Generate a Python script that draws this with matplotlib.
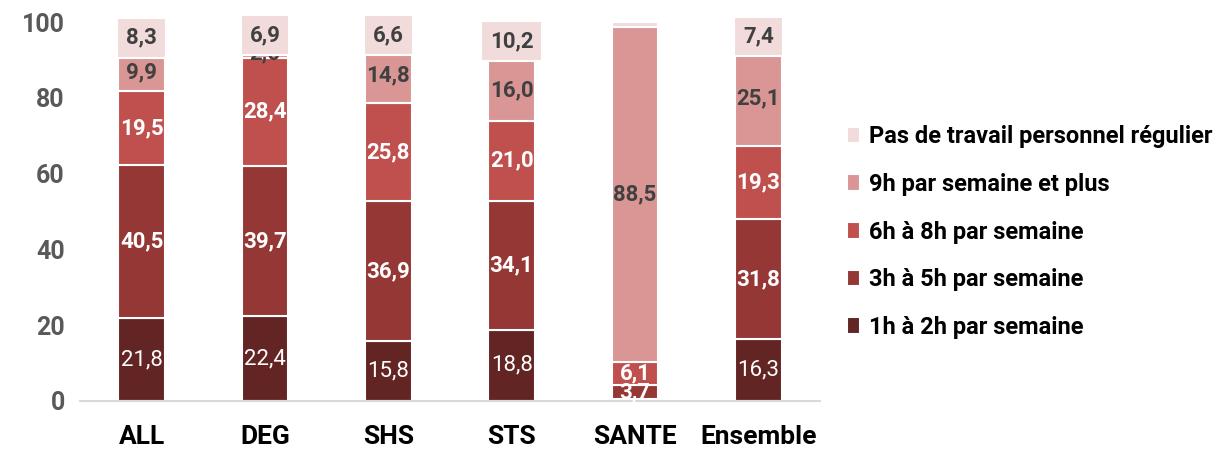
import matplotlib
matplotlib.use("Agg")
import matplotlib.pyplot as plt
import numpy as np

plt.rcParams['font.family'] = ['Roboto', 'DejaVu Sans']

categories = ["ALL", "DEG", "SHS", "STS", "SANTE", "Ensemble"]
series_names = ["1h à 2h par semaine", "3h à 5h par semaine", "6h à 8h par semaine",
                "9h par semaine et plus", "Pas de travail personnel régulier"]
h1_2 = [21.8, 22.4, 15.8, 18.8, 0.5, 16.3]
h3_5 = [40.5, 39.7, 36.9, 34.1, 3.7, 31.8]
h6_8 = [19.5, 28.4, 25.8, 21.0, 6.1, 19.3]
h9p = [9.9, 2.6, 14.8, 16.0, 88.5, 25.1]
pas = [8.3, 6.9, 6.6, 10.2, 1.2, 7.4]
series = [h1_2, h3_5, h6_8, h9p, pas]
colors = ["#632523", "#953735", "#c0504d", "#d99694", "#f2dcdb"]
label_colors = ["white", "white", "white", "#404040", "#404040"]
label_weights = ["normal", "bold", "bold", "bold", "bold"]

fig = plt.figure(figsize=(12.2, 4.5), dpi=100)
ax = fig.add_axes([80/1220, 49/450, 740/1220, 379/450])

x = np.arange(len(categories))
bottom = np.zeros(len(categories))
handles = []
for k, (vals, col, lc, lw, name) in enumerate(zip(series, colors, label_colors, label_weights, series_names)):
    vals = np.array(vals)
    b = ax.bar(x, vals, 0.38, bottom=bottom, color=col, edgecolor="white",
               linewidth=1.5, label=name, clip_on=False)
    handles.append(b)
    for xi, v, bt in zip(x, vals, bottom):
        if v >= 1.5:
            kw = {}
            if k == 4:
                kw["bbox"] = dict(boxstyle="square,pad=0.4", facecolor=col,
                                  edgecolor="white", linewidth=1.5)
            ax.text(xi, bt + v/2, f"{v:.1f}".replace(".", ","), ha="center", va="center",
                    color=lc, fontsize=16, fontweight=lw, zorder=5, clip_on=False, **kw)
    bottom += vals

ax.set_xlim(-0.5, 5.5)
ax.set_ylim(0, 100)
ax.set_yticks([0, 20, 40, 60, 80, 100])
ax.set_xticks(x)
ax.set_xticklabels(categories, fontsize=19, fontweight="bold", color="black")
for lab in ax.get_yticklabels():
    lab.set_fontsize(18)
    lab.set_fontweight("bold")
    lab.set_color("#595959")
ax.tick_params(axis="x", length=0, pad=17)
ax.tick_params(axis="y", length=0, pad=11)
for s in ["top", "right", "left"]:
    ax.spines[s].set_visible(False)
ax.spines["bottom"].set_color("#d9d9d9")
ax.spines["bottom"].set_linewidth(1.5)

leg = fig.legend(handles=handles[::-1], labels=series_names[::-1],
                 loc="upper left", bbox_to_anchor=(838/1220, 1 - 116/450),
                 frameon=False, prop={"size": 17, "weight": "bold"},
                 handlelength=0.55, handleheight=0.7, handletextpad=0.35,
                 labelspacing=1.04, borderaxespad=0)
for t in leg.get_texts():
    t.set_color("black")

fig.savefig("out.png", dpi=100)
